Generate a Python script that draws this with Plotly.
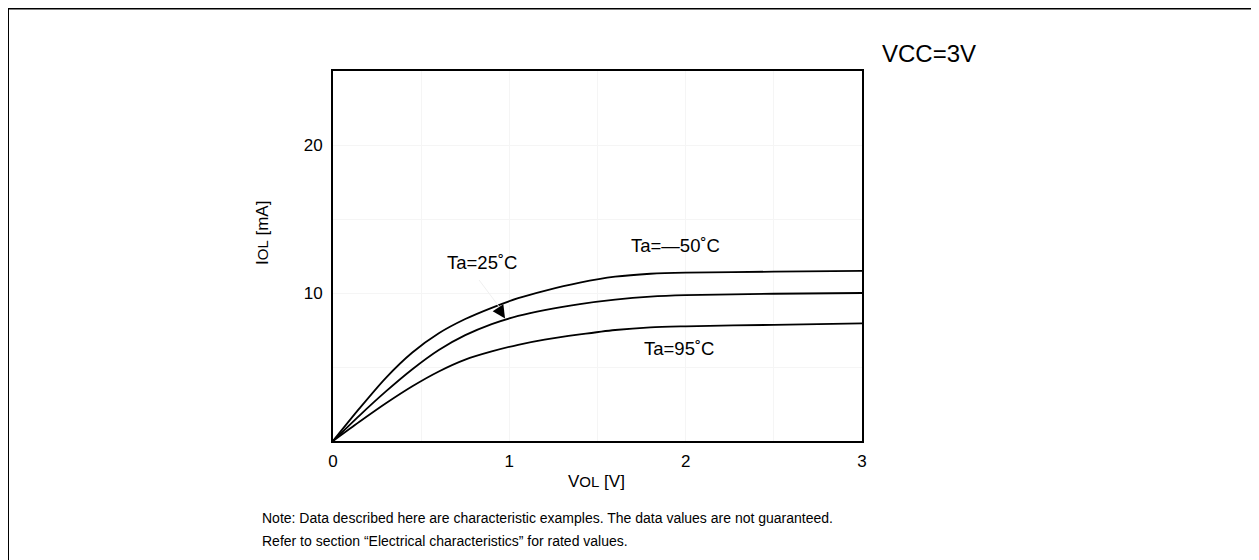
import plotly.graph_objects as go

# Data
vol = [0, 0.15, 0.3, 0.45, 0.6, 0.75, 0.9, 1.05, 1.2, 1.4, 1.6, 1.8, 2.0, 2.5, 3.0]
iol_m50 = [0, 2.2, 4.27, 5.98, 7.28, 8.24, 9.0, 9.65, 10.15, 10.7, 11.1, 11.3, 11.38, 11.44, 11.5]
iol_25 = [0, 1.72, 3.35, 4.85, 6.15, 7.15, 7.9, 8.45, 8.85, 9.25, 9.55, 9.75, 9.85, 9.95, 10.0]
iol_95 = [0, 1.3, 2.55, 3.7, 4.7, 5.5, 6.05, 6.5, 6.85, 7.2, 7.5, 7.68, 7.75, 7.85, 7.95]
series_names = ["Ta=−50°C", "Ta=25°C", "Ta=95°C"]
x_ticks = [0, 1, 2, 3]
y_ticks = [10, 20]

FONT = "Liberation Sans, Arial, sans-serif"

# page body offset (browser default margin)
OFF = 8
PL, PT, PW, PH = 333, 71, 529, 370  # plot area in window pixels

fig = go.Figure()
for name, ys in zip(series_names, [iol_m50, iol_25, iol_95]):
    fig.add_trace(go.Scatter(x=vol, y=ys, mode="lines", name=name,
                             line=dict(color="black", width=1.8, shape="spline", smoothing=0.8),
                             showlegend=False, hoverinfo="x+y+name"))

fig.update_layout(
    width=1259, height=560,
    margin=dict(l=PL - OFF, r=1259 - (PL - OFF) - PW, t=PT - OFF, b=560 - (PT - OFF) - PH),
    paper_bgcolor="white", plot_bgcolor="white",
    font=dict(family=FONT, size=17, color="black"),
)
fig.update_xaxes(range=[0, 3], tickvals=x_ticks, ticktext=[str(v) for v in x_ticks],
                 showline=True, linecolor="black", linewidth=2, mirror=True,
                 showgrid=True, gridcolor="#f5f5f5", gridwidth=1,
                 minor=dict(dtick=0.5, showgrid=True, gridcolor="#f5f5f5"),
                 ticks="", zeroline=False, tickfont=dict(size=17), ticklabelstandoff=4)
fig.update_yaxes(range=[0, 25], tickvals=y_ticks, ticktext=[str(v) for v in y_ticks],
                 showline=True, linecolor="black", linewidth=2, mirror=True,
                 showgrid=True, gridcolor="#f5f5f5", gridwidth=1,
                 minor=dict(dtick=5, showgrid=True, gridcolor="#f5f5f5"),
                 ticks="", zeroline=False, tickfont=dict(size=17), ticklabelstandoff=5)


def px(xw):
    return (xw - PL) / PW


def py(yw):
    return (PT + PH - yw) / PH


ann = [
    dict(text="Ta=25˚C", x=0.845, y=12.05, xref="x", yref="y", showarrow=False, font=dict(size=18.5)),
    dict(text="Ta=—50˚C", x=1.94, y=13.2, xref="x", yref="y", showarrow=False, font=dict(size=18.5)),
    dict(text="Ta=95˚C", x=1.96, y=6.26, xref="x", yref="y", showarrow=False, font=dict(size=18.5)),
    # faint leader line
    dict(text="", x=0.958, y=8.82, ax=0.822, ay=10.98, xref="x", yref="y", axref="x", ayref="y",
         showarrow=True, arrowhead=0, arrowwidth=1, arrowcolor="#f0f0f0", standoff=0, startstandoff=0),
    # black arrow head
    dict(text="", x=0.976, y=8.28, ax=-5, ay=-7.5, xref="x", yref="y",
         showarrow=True, arrowhead=2, arrowsize=1.6, arrowwidth=1.6, arrowcolor="black", standoff=0),
    dict(text="V<span style='font-size:15px'>OL</span> [V]", x=px(596), y=py(481),
         xref="paper", yref="paper", showarrow=False, font=dict(size=17), xanchor="center", yanchor="middle"),
    dict(text="I<span style='font-size:15px'>OL</span> [mA]", x=px(262), y=py(233),
         xref="paper", yref="paper", showarrow=False, textangle=-90, font=dict(size=17),
         xanchor="center", yanchor="middle"),
    dict(text="VCC=3V", x=px(880), y=py(53), xref="paper", yref="paper",
         showarrow=False, font=dict(size=24), xanchor="left", yanchor="middle"),
    dict(text="Note: Data described here are characteristic examples. The data values are not guaranteed.",
         x=px(260), y=py(518), xref="paper", yref="paper", showarrow=False,
         font=dict(size=14), xanchor="left", yanchor="middle"),
    dict(text="Refer to section “Electrical characteristics” for rated values.",
         x=px(260), y=py(541), xref="paper", yref="paper", showarrow=False,
         font=dict(size=14), xanchor="left", yanchor="middle"),
]
fig.update_layout(annotations=ann)

# outer frame
fig.add_shape(type="rect", xref="paper", yref="paper",
              x0=px(7.5), x1=px(1257.5), y0=py(575), y1=py(8),
              line=dict(color="black", width=3), fillcolor="rgba(0,0,0,0)", layer="above")

fig.write_html("out.html")
